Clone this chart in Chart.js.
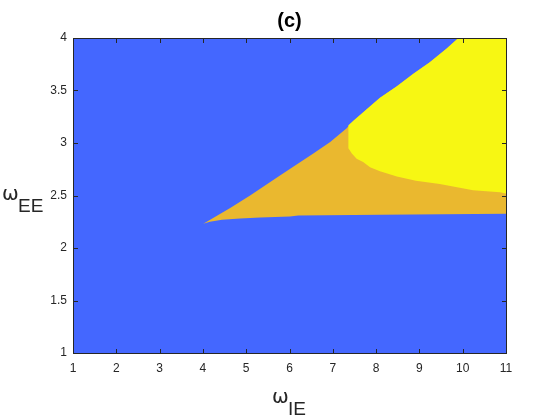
<!DOCTYPE html>
<html>
<head>
<meta charset="utf-8">
<script src="https://cdn.jsdelivr.net/npm/chart.js@4"></script>
<style>
  html, body { margin: 0; padding: 0; background: #fff; }
  #wrap { width: 560px; height: 420px; }
</style>
</head>
<body>
<div id="wrap"><canvas id="chart" width="560" height="420"></canvas></div>
<script>
// upper edge of the coloured wedge (blue above it)
const upperX = [4.01, 4.63, 5.09, 5.78, 6.55, 6.94, 7.32, 7.47, 8.09, 8.48, 8.86, 9.24, 9.63, 9.90];
const upperY = [2.23, 2.38, 2.50, 2.69, 2.90, 3.01, 3.14, 3.21, 3.43, 3.54, 3.66, 3.77, 3.90, 4.00];

// lower edge of the orange region (blue below it)
const lowerX = [4.01, 4.16, 4.44, 4.86, 5.32, 6.01, 6.20, 8.10, 11.0];
const lowerY = [2.23, 2.25, 2.27, 2.28, 2.29, 2.30, 2.31, 2.317, 2.327];

// lower/left edge of the yellow region
const yellowX = [7.36, 7.36, 7.44, 7.55, 7.70, 7.86, 8.09, 8.48, 8.92, 9.47, 10.24, 10.86, 11.0];
const yellowY = [3.17, 2.95, 2.90, 2.85, 2.82, 2.77, 2.73, 2.68, 2.64, 2.61, 2.55, 2.53, 2.52];

const xTicks = [1, 2, 3, 4, 5, 6, 7, 8, 9, 10, 11];
const yTicks = [1, 1.5, 2, 2.5, 3, 3.5, 4];

const BLUE = "#4467ff";
const ORANGE = "#eab82f";
const YELLOW = "#f7f713";
const INK = "#262626";

const xMin = 1, xMax = 11, yMin = 1, yMax = 4;

// orange polygon: along the upper edge, across the top, down the right side, back along lower edge
const orangePoly = [];
upperX.forEach((x, i) => orangePoly.push({ x: x, y: upperY[i] }));
orangePoly.push({ x: xMax, y: yMax });
for (let i = lowerX.length - 1; i >= 0; i--) orangePoly.push({ x: lowerX[i], y: lowerY[i] });

// yellow polygon: its own boundary, up the right side, back along the upper edge
const yellowPoly = [];
yellowX.forEach((x, i) => yellowPoly.push({ x: x, y: yellowY[i] }));
yellowPoly.push({ x: xMax, y: yMax });
for (let i = upperX.length - 1; i >= 0; i--) {
  if (upperX[i] > yellowX[0]) yellowPoly.push({ x: upperX[i], y: upperY[i] });
}

const tickFont = { family: "'Liberation Sans', Arial, sans-serif", size: 12 };

const frame = {
  id: "frame",
  beforeDatasetsDraw(chart) {
    const { ctx, chartArea: a } = chart;
    ctx.save();
    ctx.fillStyle = BLUE;
    ctx.fillRect(a.left, a.top, a.right - a.left, a.bottom - a.top);
    ctx.restore();
  },
  afterDraw(chart) {
    const { ctx, chartArea: a, scales } = chart;
    const L = Math.round(a.left), R = Math.round(a.right);
    const T = Math.round(a.top), B = Math.round(a.bottom);
    ctx.save();
    ctx.fillStyle = INK;
    // box
    ctx.fillRect(L, T, R - L + 1, 1);
    ctx.fillRect(L, B, R - L + 1, 1);
    ctx.fillRect(L, T, 1, B - T + 1);
    ctx.fillRect(R, T, 1, B - T + 1);
    // inward ticks on all four sides
    xTicks.forEach(v => {
      const px = Math.round(scales.x.getPixelForValue(v));
      ctx.fillRect(px, B - 4, 1, 5);
      ctx.fillRect(px, T, 1, 5);
    });
    yTicks.forEach(v => {
      const py = Math.round(scales.y.getPixelForValue(v));
      ctx.fillRect(L, py, 5, 1);
      ctx.fillRect(R - 4, py, 5, 1);
    });

    ctx.fillStyle = "#000";
    ctx.textAlign = "center";
    ctx.textBaseline = "alphabetic";
    ctx.font = "bold 20px 'Liberation Sans', Arial, sans-serif";
    ctx.fillText("(c)", (a.left + a.right) / 2, 27);

    ctx.fillStyle = INK;
    ctx.textAlign = "left";
    // x label: omega with subscript IE
    ctx.font = "20px 'DejaVu Sans', sans-serif";
    ctx.fillText("\u03c9", 272, 403);
    ctx.font = "19px 'Liberation Sans', Arial, sans-serif";
    ctx.fillText("IE", 288, 415);
    // y label: omega with subscript EE
    ctx.font = "20px 'DejaVu Sans', sans-serif";
    ctx.fillText("\u03c9", 2, 200);
    ctx.font = "19px 'Liberation Sans', Arial, sans-serif";
    ctx.fillText("EE", 18, 212);
    ctx.restore();
  }
};

new Chart(document.getElementById("chart"), {
  type: "scatter",
  data: {
    datasets: [
      {
        label: "yellow",
        data: yellowPoly,
        showLine: true,
        fill: "shape",
        backgroundColor: YELLOW,
        borderColor: YELLOW,
        borderWidth: 0,
        pointRadius: 0,
        order: 0
      },
      {
        label: "orange",
        data: orangePoly,
        showLine: true,
        fill: "shape",
        backgroundColor: ORANGE,
        borderColor: ORANGE,
        borderWidth: 0,
        pointRadius: 0,
        order: 1
      }
    ]
  },
  plugins: [frame],
  options: {
    responsive: false,
    animation: false,
    layout: { padding: { top: 38, right: 54, left: 0, bottom: 0 } },
    plugins: {
      legend: { display: false },
      tooltip: { enabled: false },
      title: { display: false }
    },
    scales: {
      x: {
        type: "linear",
        min: xMin,
        max: xMax,
        afterFit: s => { s.height = 67; },
        afterBuildTicks: s => { s.ticks = xTicks.map(v => ({ value: v })); },
        grid: { display: false, drawTicks: false },
        border: { display: false },
        ticks: {
          autoSkip: false,
          maxRotation: 0,
          padding: 8,
          color: INK,
          font: tickFont,
          callback: v => String(v)
        }
      },
      y: {
        type: "linear",
        min: yMin,
        max: yMax,
        afterFit: s => { s.width = 73; },
        afterBuildTicks: s => { s.ticks = yTicks.map(v => ({ value: v })); },
        grid: { display: false, drawTicks: false },
        border: { display: false },
        ticks: {
          autoSkip: false,
          padding: 6,
          color: INK,
          font: tickFont,
          callback: v => String(v)
        }
      }
    }
  }
});
</script>
</body>
</html>
